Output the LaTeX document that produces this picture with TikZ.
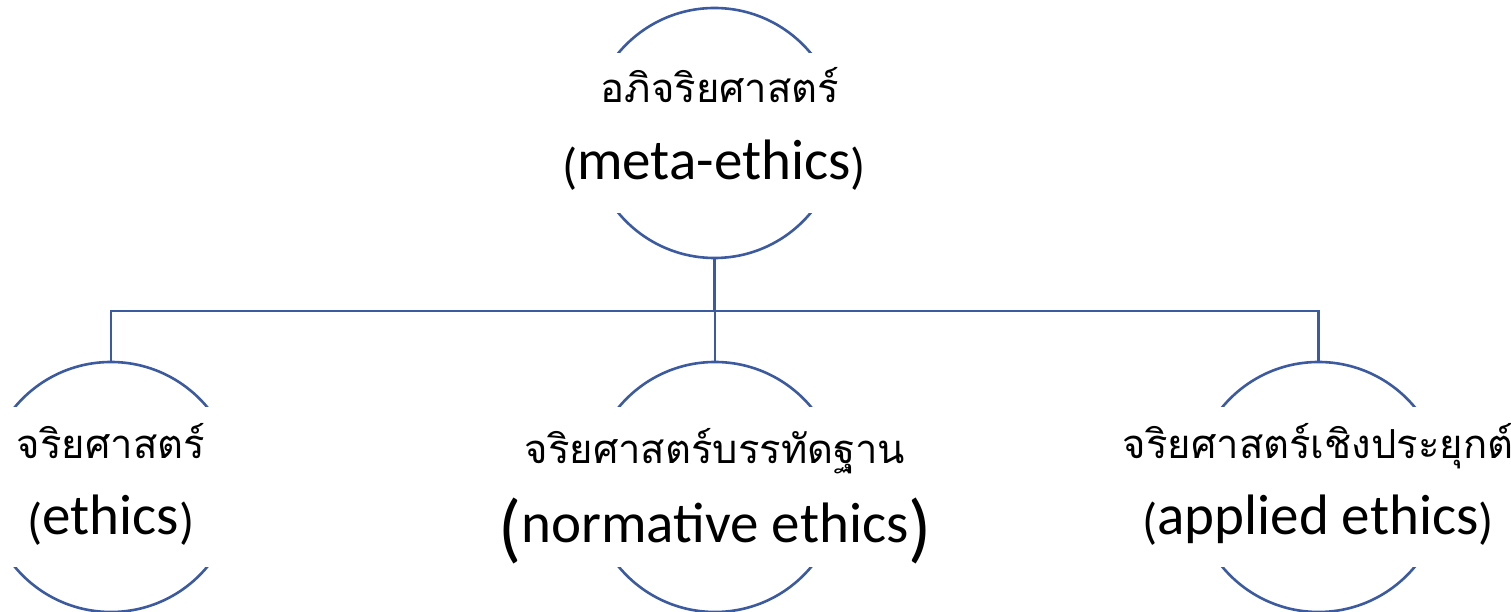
\documentclass[tikz,border=0pt]{standalone}
\usepackage{fontspec}
\setmainfont{Carlito}
\newfontfamily\thaifont[Script=Thai]{Loma}
\definecolor{lineblue}{HTML}{3C5AA0}
\newcommand\enfont{\fontsize{57}{60}\selectfont}
\newcommand\thfont{\thaifont\fontsize{40}{44}\selectfont}
\newcommand\smparen[1]{\raisebox{-4pt}{\fontsize{50}{50}\selectfont #1}}
\newcommand\bigparen[1]{\raisebox{-11pt}{\fontsize{76}{76}\selectfont #1}}
\tikzset{
  circ/.style={circle, draw=lineblue, line width=2.6pt, minimum size=250pt, inner sep=0pt},
  cover/.style={fill=white, minimum width=270pt, minimum height=160pt, inner sep=0pt},
  thtext/.style={anchor=base, inner sep=0pt, font=\thfont},
  entext/.style={anchor=base, inner sep=0pt, font=\enfont},
  conn/.style={draw=lineblue, line width=2.6pt},
}
\begin{document}
\begin{tikzpicture}[x=1pt,y=1pt]
\useasboundingbox (0,0) rectangle (1511,612);
% circles
\node[circ] (meta) at (714.5,479) {};
\node[circ] (ethics) at (111,125) {};
\node[circ] (norm) at (715,125) {};
\node[circ] (applied) at (1318.5,125) {};
% white covers
\node[cover] (metaW) at (meta.center) {};
\node[cover] (ethicsW) at (ethics.center) {};
\node[cover] (normW) at (norm.center) {};
\node[cover] (appliedW) at (applied.center) {};
% connectors
\coordinate (bus) at (715,301);
\draw[conn] (meta.south) -- (meta.south |- bus);
\draw[conn] (ethics.north) -- (ethics.north |- bus) -- (applied.north |- bus) -- (applied.north);
\draw[conn] (norm.north) -- (norm.north |- bus);
% texts
\node[thtext] (metaTh) at (720,509) {อภิจริยศาสตร์};
\node[entext] (metaEn) at (714,432) {\smparen{(}meta-ethics\smparen{)}};
\node[thtext] (ethicsTh) at (111,153) {จริยศาสตร์};
\node[entext] (ethicsEn) at (111,77) {\smparen{(}ethics\smparen{)}};
\node[thtext] (normTh) at (715,148) {จริยศาสตร์บรรทัดฐาน};
\node[entext] (normEn) at (715,69) {\bigparen{(}normative ethics\bigparen{)}};
\node[thtext] (appliedTh) at (1318,153) {จริยศาสตร์เชิงประยุกต์};
\node[entext] (appliedEn) at (1318,77) {\smparen{(}applied ethics\smparen{)}};
\end{tikzpicture}
\end{document}
